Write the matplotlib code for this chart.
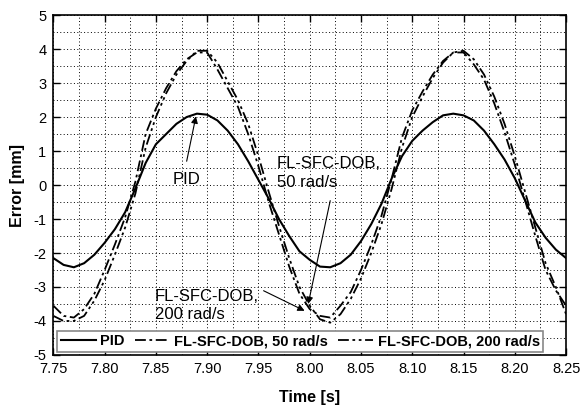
#!/usr/bin/env python3
"""Tracking error: PID vs FL-SFC-DOB at two observer bandwidths."""

import matplotlib
matplotlib.use("Agg")
import matplotlib.pyplot as plt
from matplotlib.ticker import MultipleLocator

plt.rcParams["font.family"] = ["Liberation Sans", "DejaVu Sans"]
plt.rcParams["axes.unicode_minus"] = False

time_s = [7.75 + 0.01 * i for i in range(51)]

pid_mm = [
    -2.15, -2.35, -2.42, -2.30, -2.05, -1.70, -1.30, -0.80, -0.10, 0.65,
    1.20, 1.50, 1.80, 2.00, 2.10, 2.07, 1.90, 1.60, 1.20, 0.70,
    0.15, -0.40, -1.00, -1.50, -1.95, -2.20, -2.40, -2.42, -2.30, -2.05,
    -1.65, -1.15, -0.55, 0.20, 0.85, 1.30, 1.60, 1.85, 2.05, 2.10,
    2.05, 1.90, 1.60, 1.20, 0.75, 0.20, -0.45, -1.10, -1.55, -1.90,
    -2.15,
]

dob50_mm = [
    -3.55, -3.85, -3.90, -3.65, -3.20, -2.50, -1.75, -0.95, 0.10, 1.50,
    2.25, 2.85, 3.35, 3.70, 3.90, 3.90, 3.40, 2.85, 2.30, 1.50,
    0.55, -0.50, -1.45, -2.40, -3.20, -3.65, -3.85, -3.90, -3.55, -3.15,
    -2.50, -1.75, -0.90, 0.20, 1.40, 2.20, 2.75, 3.25, 3.65, 3.90,
    3.90, 3.55, 3.10, 2.40, 1.55, 0.60, -0.45, -1.50, -2.50, -3.10,
    -3.55,
]

dob200_mm = [
    -3.85, -4.00, -4.00, -3.85, -3.40, -2.80, -2.05, -1.25, -0.25, 1.10,
    2.00, 2.70, 3.25, 3.65, 3.95, 3.95, 3.60, 3.05, 2.50, 1.80,
    0.85, -0.20, -1.20, -2.15, -3.00, -3.55, -3.95, -4.05, -3.80, -3.35,
    -2.75, -2.00, -1.15, -0.10, 1.10, 2.00, 2.60, 3.15, 3.60, 3.90,
    3.95, 3.70, 3.25, 2.60, 1.80, 0.85, -0.20, -1.25, -2.30, -3.00,
    -3.80,
]

fig = plt.figure(figsize=(5.8, 4.08), dpi=100)
ax = fig.add_axes([0.092, 0.130, 0.884, 0.833])

ax.plot(time_s, pid_mm, color="black", lw=1.5, label="PID")
ax.plot(time_s, dob50_mm, color="black", lw=1.3,
        linestyle=(0, (6, 2, 1.5, 2)), label="FL-SFC-DOB, 50 rad/s")
ax.plot(time_s, dob200_mm, color="black", lw=1.3,
        linestyle=(0, (6, 2, 1.5, 2, 1.5, 2)), label="FL-SFC-DOB, 200 rad/s")

ax.set_xlim(7.75, 8.25)
ax.set_ylim(-5, 5)
ax.xaxis.set_major_locator(MultipleLocator(0.05))
ax.xaxis.set_minor_locator(MultipleLocator(0.025))
ax.yaxis.set_major_locator(MultipleLocator(1))
ax.yaxis.set_minor_locator(MultipleLocator(0.5))
ax.xaxis.set_major_formatter(plt.FormatStrFormatter("%.2f"))
ax.grid(True, which="both", color="black", lw=0.7, linestyle=(0, (1, 2.5)))
ax.tick_params(which="major", direction="in", top=True, right=True,
               length=5, width=1, labelsize=10.5, pad=5)
ax.tick_params(which="minor", length=0)
for spine in ax.spines.values():
    spine.set_linewidth(1.2)

ax.set_xlabel("Time [s]", fontsize=11.5, fontweight="bold", labelpad=10)
ax.set_ylabel("Error [mm]", fontsize=11.5, fontweight="bold", labelpad=6)

arrow = dict(arrowstyle="-|>", lw=0.8, color="black", mutation_scale=10,
             shrinkA=0, shrinkB=0)
ax.text(7.880, 0.16, "PID", fontsize=12, ha="center", va="center")
ax.annotate("", xy=(7.889, 2.02), xytext=(7.880, 0.70), arrowprops=arrow)

ax.text(7.968, 0.35, "FL-SFC-DOB,\n50 rad/s", fontsize=12,
        ha="left", va="center", linespacing=1.3)
ax.annotate("", xy=(7.9985, -3.5), xytext=(8.020, -0.46), arrowprops=arrow)

ax.text(7.849, -3.55, "FL-SFC-DOB,\n200 rad/s", fontsize=12,
        ha="left", va="center", linespacing=1.3)
ax.annotate("", xy=(7.995, -3.7), xytext=(7.955, -3.11), arrowprops=arrow)

leg = ax.legend(loc="lower left", bbox_to_anchor=(0.007, 0.009), ncol=3,
                borderaxespad=0, fancybox=False, framealpha=1,
                edgecolor="#888888", handlelength=2.4, handletextpad=0.3,
                columnspacing=0.7, borderpad=0.25,
                prop={"size": 10.5, "weight": "bold"})
leg.get_frame().set_linewidth(1.2)

fig.savefig("out.png", dpi=100)
